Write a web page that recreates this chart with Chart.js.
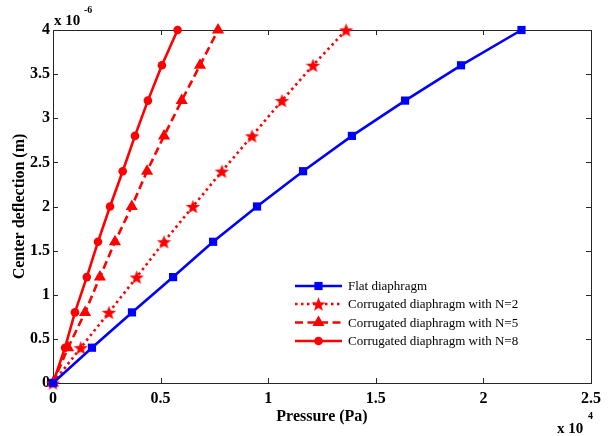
<!DOCTYPE html>
<html>
<head>
<meta charset="utf-8">
<script src="https://cdn.jsdelivr.net/npm/chart.js@4.4.1/dist/chart.umd.min.js"></script>
<style>
html,body{margin:0;padding:0;background:#fff;}
#wrap{width:613px;height:436px;position:relative;}
</style>
</head>
<body>
<div id="wrap"><canvas id="c" width="613" height="436"></canvas></div>
<script>
// Deflection values (x 10^-6 m)
const deflection = [0, 0.4, 0.8, 1.2, 1.6, 2.0, 2.4, 2.8, 3.2, 3.6, 4.0];
// Pressure values (x 10^4 Pa)
const flatPressure = [0, 0.181, 0.367, 0.558, 0.744, 0.948, 1.162, 1.389, 1.636, 1.896, 2.177];
const n2Pressure   = [0, 0.129, 0.260, 0.389, 0.516, 0.650, 0.785, 0.925, 1.064, 1.208, 1.362];
const n5Pressure   = [0, 0.070, 0.149, 0.218, 0.288, 0.366, 0.437, 0.516, 0.598, 0.683, 0.767];
const n8Pressure   = [0, 0.056, 0.102, 0.157, 0.209, 0.265, 0.324, 0.381, 0.441, 0.506, 0.579];
const seriesNames = ['Flat diaphragm', 'Corrugated diaphragm with N=2', 'Corrugated diaphragm with N=5', 'Corrugated diaphragm with N=8'];
const xTickLabels = ['0', '0.5', '1', '1.5', '2', '2.5'];
const yTickLabels = ['0', '0.5', '1', '1.5', '2', '2.5', '3', '3.5', '4'];

function pts(xs){ return xs.map((x,i)=>({x:x, y:deflection[i]})); }

function makeStar(size, color){
  const c = document.createElement('canvas');
  c.width = size; c.height = size;
  const g = c.getContext('2d');
  const cx = size/2, cy = size/2 + size*0.05, R = size/2, r = R*0.42;
  g.beginPath();
  for (let i=0;i<10;i++){
    const a = -Math.PI/2 + i*Math.PI/5;
    const rr = i%2===0 ? R : r;
    g.lineTo(cx + rr*Math.cos(a), cy + rr*Math.sin(a));
  }
  g.closePath();
  g.fillStyle = color; g.fill();
  return c;
}
const starImg = makeStar(15, '#ff0000');

const RED = '#ff0000', BLUE = '#0000ff';
const datasets = [
  {label: seriesNames[0], data: pts(flatPressure), borderColor: BLUE, backgroundColor: BLUE,
   borderWidth: 2.6, pointStyle: 'rect', pointRadius: 5.8, borderDash: []},
  {label: seriesNames[1], data: pts(n2Pressure), borderColor: RED, backgroundColor: RED,
   borderWidth: 2.6, pointStyle: starImg, pointRadius: 7.5, borderDash: [2.5, 3.5]},
  {label: seriesNames[2], data: pts(n5Pressure), borderColor: RED, backgroundColor: RED,
   borderWidth: 2.6, pointStyle: 'triangle', pointRadius: 7, borderDash: [8, 4.5]},
  {label: seriesNames[3], data: pts(n8Pressure), borderColor: RED, backgroundColor: RED,
   borderWidth: 2.6, pointStyle: 'circle', pointRadius: 4.3, borderDash: []}
];
datasets.forEach(d=>{ d.showLine = true; d.fill = false; d.tension = 0; d.pointBorderWidth = 0; d.pointHoverRadius = d.pointRadius; d.clip = false; });

const boxPlugin = {
  id: 'boxPlugin',
  beforeDatasetsDraw(chart){
    const {ctx, chartArea: a, scales: {x, y}} = chart;
    ctx.save();
    ctx.strokeStyle = '#262626';
    ctx.lineWidth = 1;
    ctx.strokeRect(a.left+0.5, a.top+0.5, a.right-a.left, a.bottom-a.top);
    const L = 5;
    ctx.beginPath();
    for (let v=0; v<=2.5001; v+=0.5){
      const px = Math.round(x.getPixelForValue(v))+0.5;
      ctx.moveTo(px, a.bottom); ctx.lineTo(px, a.bottom-L);
      ctx.moveTo(px, a.top); ctx.lineTo(px, a.top+L);
    }
    for (let v=0; v<=4.0001; v+=0.5){
      const py = Math.round(y.getPixelForValue(v))+0.5;
      ctx.moveTo(a.left, py); ctx.lineTo(a.left+L, py);
      ctx.moveTo(a.right, py); ctx.lineTo(a.right-L, py);
    }
    ctx.stroke();
    ctx.restore();
  },
  afterDraw(chart){
    const {ctx} = chart;
    ctx.save();
    // exponent labels
    ctx.fillStyle = '#000';
    ctx.textBaseline = 'alphabetic';
    ctx.textAlign = 'left';
    ctx.font = 'bold 15px "Liberation Serif"';
    ctx.fillText('x 10', 54, 25);
    ctx.font = 'bold 10px "Liberation Serif"';
    ctx.fillText('-6', 84, 13);
    ctx.font = 'bold 15px "Liberation Serif"';
    ctx.fillText('x 10', 557, 433);
    ctx.font = 'bold 10px "Liberation Serif"';
    ctx.fillText('4', 588, 419);
    // legend
    const lx0 = 295, lx1 = 342, tx = 348;
    const ys = [286, 304, 322.5, 341];
    ctx.font = '13px "Liberation Serif"';
    ctx.textBaseline = 'middle';
    chart.data.datasets.forEach((d, i)=>{
      const yy = ys[i];
      ctx.save();
      ctx.strokeStyle = d.borderColor;
      ctx.lineWidth = d.borderWidth;
      ctx.setLineDash(d.borderDash || []);
      ctx.beginPath(); ctx.moveTo(lx0, yy); ctx.lineTo(lx1, yy); ctx.stroke();
      ctx.restore();
      ctx.save();
      ctx.fillStyle = d.backgroundColor;
      ctx.strokeStyle = d.borderColor;
      ctx.lineWidth = 0;
      Chart.helpers.drawPoint(ctx, {pointStyle: d.pointStyle, radius: d.pointRadius, borderWidth: 0, rotation: 0}, (lx0+lx1)/2, yy);
      ctx.restore();
      ctx.fillStyle = '#000';
      ctx.fillText(d.label, tx, yy+1);
    });
    ctx.restore();
  }
};

const fontTick = {family: '"Liberation Serif"', size: 16, weight: 'bold'};
new Chart(document.getElementById('c'), {
  type: 'scatter',
  data: {datasets},
  options: {
    responsive: false,
    animation: false,
    devicePixelRatio: 1,
    layout: {padding: {left: 0, top: 30, right: 22, bottom: 0}},
    plugins: {legend: {display: false}, tooltip: {enabled: false}},
    elements: {point: {borderWidth: 0}},
    scales: {
      x: {
        type: 'linear', min: 0, max: 2.5,
        grid: {display: false, drawTicks: false},
        border: {display: false},
        ticks: {stepSize: 0.5, color: '#000', font: fontTick, padding: 6,
          callback: (v)=>{ const i = Math.round(v/0.5); return xTickLabels[i]; }},
        title: {display: true, text: 'Pressure (Pa)', color: '#000', font: fontTick, padding: {top: 0, bottom: 10}},
        afterFit: (s)=>{ s.height = 53; }
      },
      y: {
        type: 'linear', min: 0, max: 4,
        grid: {display: false, drawTicks: false},
        border: {display: false},
        ticks: {stepSize: 0.5, color: '#000', font: fontTick, padding: 3,
          callback: (v)=>{ const i = Math.round(v/0.5); return yTickLabels[i]; }},
        title: {display: true, text: 'Center deflection (m)', color: '#000', font: fontTick, padding: {top: 10, bottom: 0}},
        afterFit: (s)=>{ s.width = 53; }
      }
    }
  },
  plugins: [boxPlugin]
});
</script>
</body>
</html>
